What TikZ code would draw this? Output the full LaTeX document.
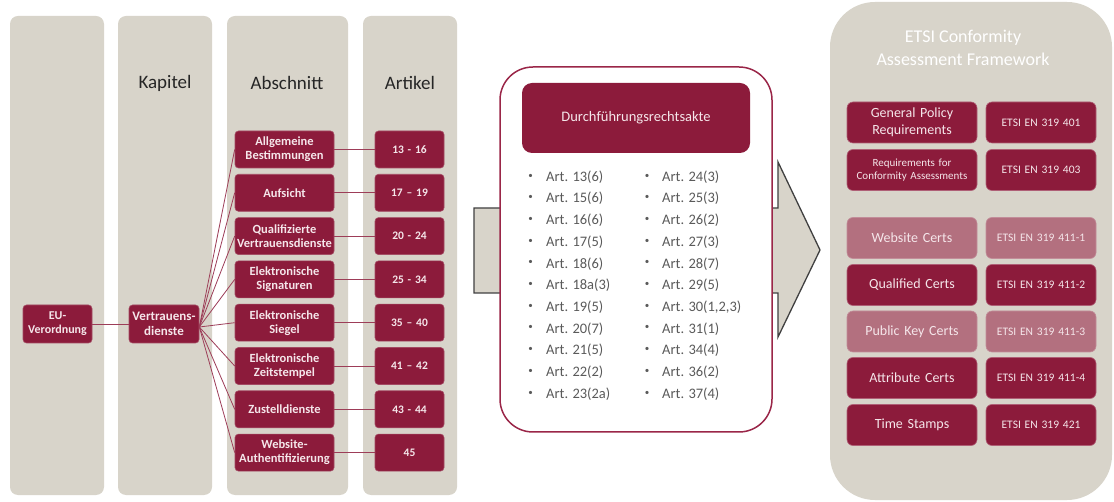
\documentclass[tikz,border=0pt]{standalone}
\usepackage{fontspec}
\setmainfont{Carlito}
\definecolor{beige}{HTML}{D8D4CA}
\definecolor{dred}{HTML}{8C1B3B}
\definecolor{lred}{HTML}{B3707F}
\definecolor{boxtxt}{HTML}{F5E6EA}
\definecolor{bultxt}{HTML}{5A5A5A}
\definecolor{arrowline}{HTML}{404040}
\definecolor{wborder}{HTML}{9A2648}
\begin{document}
\begin{tikzpicture}[x=1pt,y=-1pt,
  col/.style={fill=beige,rounded corners=8pt},
  head/.style={font=\fontsize{19}{22}\selectfont,text=black!85},
  sbox/.style={fill=dred,draw=dred!80!white,line width=0.6pt,rounded corners=3.5pt,text=boxtxt,
    font=\bfseries\fontsize{12.5}{14}\selectfont,align=center,inner sep=1pt,
    minimum height=37pt},
  abox/.style={sbox,minimum width=97pt,text width=97pt},
  rbox/.style={sbox,minimum width=69pt,text width=67pt,font=\bfseries\fontsize{11.5}{13}\selectfont},
  conn/.style={draw=dred!85!white,line width=0.8pt},
  bul/.style={text=bultxt,font=\fontsize{14.5}{16}\selectfont,anchor=west,inner sep=0pt},
  dot/.style={text=bultxt,font=\fontsize{9}{10}\selectfont,inner sep=0pt},
  fbox/.style={fill=dred,draw=dred!70!white,line width=0.6pt,rounded corners=6pt,text=boxtxt,
    align=center,inner sep=1pt,minimum height=41pt},
  fboxl/.style={fbox,fill=lred,draw=lred!80!white},
  fl/.style={minimum width=130pt,text width=128pt,font=\fontsize{14}{16.5}\selectfont},
  fr/.style={minimum width=110pt,text width=108pt,font=\fontsize{11.5}{14}\selectfont}
]
\useasboundingbox (0,0) rectangle (1114,502);
\fill[white] (0,0) rectangle (1114,502);
% columns
\fill[col] (10,16) rectangle (104,495);
\fill[col] (118,16) rectangle (212,495);
\fill[col] (227,16) rectangle (348,495);
\fill[col] (363,16) rectangle (457,495);
\node[head] (hk) at (165,83) {Kapitel};
\node[head] (ha) at (287,83) {Abschnitt};
\node[head] (hr) at (410,83) {Artikel};
% left nodes
\node[sbox,minimum width=69pt,text width=67pt,minimum height=38pt,font=\bfseries\fontsize{12}{14}\selectfont] (eu) at (57.5,324) {EU-\\Verordnung};
\node[sbox,minimum width=70pt,text width=68pt,minimum height=38pt,font=\bfseries\fontsize{13}{14.5}\selectfont] (vd) at (164,324) {Vertrauens-\\dienste};
\draw[conn] (eu) -- (vd);
\foreach \i/\t/\r in {0/{Allgemeine\\Bestimmungen}/{13 - 16},
                      1/{Aufsicht}/{17 -- 19},
                      2/{Qualifizierte\\Vertrauensdienste}/{20 - 24},
                      3/{Elektronische\\Signaturen}/{25 - 34},
                      4/{Elektronische\\Siegel}/{35 -- 40},
                      5/{Elektronische\\Zeitstempel}/{41 -- 42},
                      6/{Zustelldienste}/{43 - 44},
                      7/{Website-\\Authentifizierung}/{45}} {
  \node[abox] (ab\i) at (284.5,149.5+43.3*\i) {\t};
  \node[rbox] (ar\i) at (409.5,149.5+43.3*\i) {\r};
  \draw[conn] (ab\i.east) -- (ar\i.west);
  \draw[conn] ([yshift=-3pt]vd.east) -- (ab\i.west);
}
% middle arrow
\draw[fill=beige,draw=arrowline,line width=1.3pt,line join=miter]
  (474,208) -- (778,208) -- (778,162) -- (820,250) -- (778,337) -- (778,293) -- (474,293) -- cycle;
\node[fill=white,draw=wborder,line width=1.5pt,rounded corners=33pt,minimum width=272pt,minimum height=365pt,inner sep=0pt] (wb) at (636,249.5) {};
\node[fill=dred,rounded corners=10pt,minimum width=228pt,minimum height=70pt,text=boxtxt,
  font=\fontsize{14.5}{16}\selectfont] (dr) at (636,118) {Durchführungsrechtsakte};
\foreach \a [count=\k from 0] in {13(6),15(6),16(6),17(5),18(6),18a(3),19(5),20(7),21(5),22(2),23(2a)} {
  \node[dot] (ba\k) at (530.5,176+21.7*\k) {\textbullet};
  \node[bul] (ta\k) at (546,177+21.7*\k) {Art. \a};
}
\foreach \a [count=\k from 0] in {24(3),25(3),26(2),27(3),28(7),29(5),{30(1,2,3)},31(1),34(4),36(2),37(4)} {
  \node[dot] (bb\k) at (647,176+21.7*\k) {\textbullet};
  \node[bul] (tb\k) at (662,177+21.7*\k) {Art. \a};
}
% right panel
\fill[beige,rounded corners=45pt] (830,2) rectangle (1112,500);
\node[text=white,align=center,font=\fontsize{18}{23}\selectfont] (etsi) at (963,48) {ETSI Conformity\\Assessment Framework};
\node[fbox,fl] (f1) at (912,122.5) {General Policy\\Requirements};
\node[fbox,fr] (g1) at (1041,122.5) {ETSI EN 319 401};
\node[fbox,fl,font=\fontsize{11}{12.5}\selectfont] (f2) at (912,170) {Requirements for\\Conformity Assessments};
\node[fbox,fr] (g2) at (1041,170) {ETSI EN 319 403};
\node[fboxl,fl] (f3) at (912,238) {Website Certs};
\node[fboxl,fr] (g3) at (1041,238) {ETSI EN 319 411-1};
\node[fbox,fl] (f4) at (912,285) {Qualified Certs};
\node[fbox,fr] (g4) at (1041,285) {ETSI EN 319 411-2};
\node[fboxl,fl] (f5) at (912,331.5) {Public Key Certs};
\node[fboxl,fr] (g5) at (1041,331.5) {ETSI EN 319 411-3};
\node[fbox,fl] (f6) at (912,378) {Attribute Certs};
\node[fbox,fr] (g6) at (1041,378) {ETSI EN 319 411-4};
\node[fbox,fl] (f7) at (912,425) {Time Stamps};
\node[fbox,fr] (g7) at (1041,425) {ETSI EN 319 421};
\end{tikzpicture}
\end{document}
